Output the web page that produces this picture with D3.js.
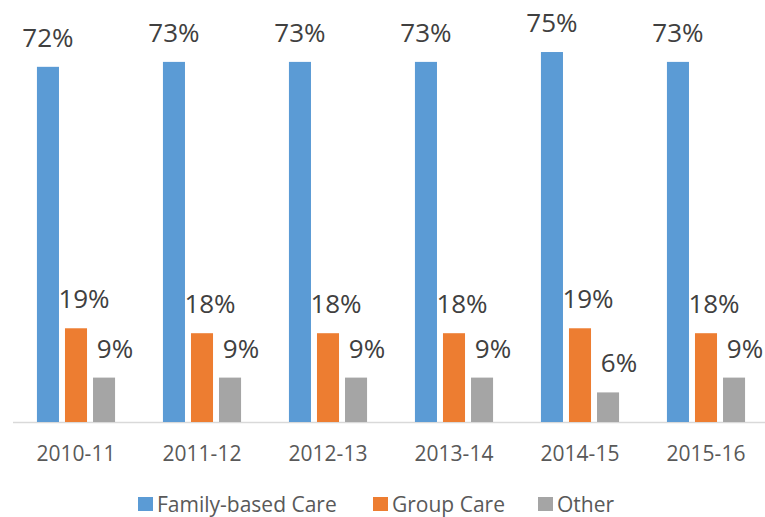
<!DOCTYPE html>
<html>
<head>
<meta charset="utf-8">
<script src="https://cdn.jsdelivr.net/npm/d3@7"></script>
<style>
  body { margin: 0; background: #fff; overflow: hidden; }
  svg { display: block; font-family: "Open Sans", sans-serif; }
</style>
</head>
<body>
<div id="chart"></div>
<script>
const years = ["2010-11", "2011-12", "2012-13", "2013-14", "2014-15", "2015-16"];
const seriesNames = ["Family-based Care", "Group Care", "Other"];
const familyCare = [72, 73, 73, 73, 75, 73];
const groupCare = [19, 18, 18, 18, 19, 18];
const other = [9, 9, 9, 9, 6, 9];
const colors = ["#5B9BD5", "#ED7D31", "#A5A5A5"];

const width = 765;
const height = 517;
const baseY = 422;

const seriesValues = [familyCare, groupCare, other];
const rows = years.map((yr, i) => ({
  year: yr,
  values: seriesNames.map((s, j) => ({ key: s, idx: j, value: seriesValues[j][i] }))
}));

const svg = d3.select("#chart")
  .append("svg")
    .attr("width", width)
    .attr("height", height);

const x0 = d3.scaleBand()
  .domain(years)
  .range([13, 769])
  .paddingInner(0.38)
  .paddingOuter(0.19);

const x1 = d3.scaleBand()
  .domain(seriesNames)
  .range([0, x0.bandwidth()])
  .paddingInner(0.214)
  .paddingOuter(0);

const y = d3.scaleLinear()
  .domain([0, 80])
  .range([baseY, baseY - 80 * 4.933]);

// axis line
svg.append("line")
  .attr("x1", 13)
  .attr("x2", 769)
  .attr("y1", baseY + 0.5)
  .attr("y2", baseY + 0.5)
  .attr("stroke", "#D9D9D9")
  .attr("stroke-width", 1.5);

const groups = svg.append("g")
  .selectAll("g")
  .data(rows)
  .join("g")
    .attr("transform", d => `translate(${x0(d.year)},0)`);

groups.selectAll("rect")
  .data(d => d.values)
  .join("rect")
    .attr("x", d => x1(d.key))
    .attr("y", d => y(d.value))
    .attr("width", x1.bandwidth())
    .attr("height", d => baseY - y(d.value))
    .attr("fill", d => colors[d.idx]);

// label offsets per series (Excel placed them a bit to the right)
const labelDX = [0, 8, 11];
groups.selectAll("text")
  .data(d => d.values)
  .join("text")
    .text(d => d.value + "%")
    .attr("x", d => x1(d.key) + x1.bandwidth() / 2 + labelDX[d.idx])
    .attr("y", d => y(d.value) - 20)
    .attr("text-anchor", "middle")
    .attr("font-size", 26)
    .attr("fill", "#404040");

// x axis labels
const xAxis = svg.append("g")
  .attr("transform", `translate(0,${baseY})`)
  .call(d3.axisBottom(x0).tickSize(0).tickPadding(0))
  .call(g => g.select(".domain").remove());

xAxis.selectAll("text")
  .attr("dy", null)
  .attr("y", 39)
  .attr("font-size", 21)
  .attr("font-family", "Open Sans, sans-serif")
  .attr("fill", "#595959");

// legend
const legendX = [138, 373, 538];
const legend = svg.append("g")
  .selectAll("g")
  .data(seriesNames)
  .join("g")
    .attr("transform", (d, i) => `translate(${legendX[i]},497)`);

legend.append("rect")
  .attr("width", 15)
  .attr("height", 14)
  .attr("fill", (d, i) => colors[i]);

legend.append("text")
  .text(d => d)
  .attr("x", 19)
  .attr("y", 15)
  .attr("font-size", 21)
  .attr("fill", "#595959");
</script>
</body>
</html>
